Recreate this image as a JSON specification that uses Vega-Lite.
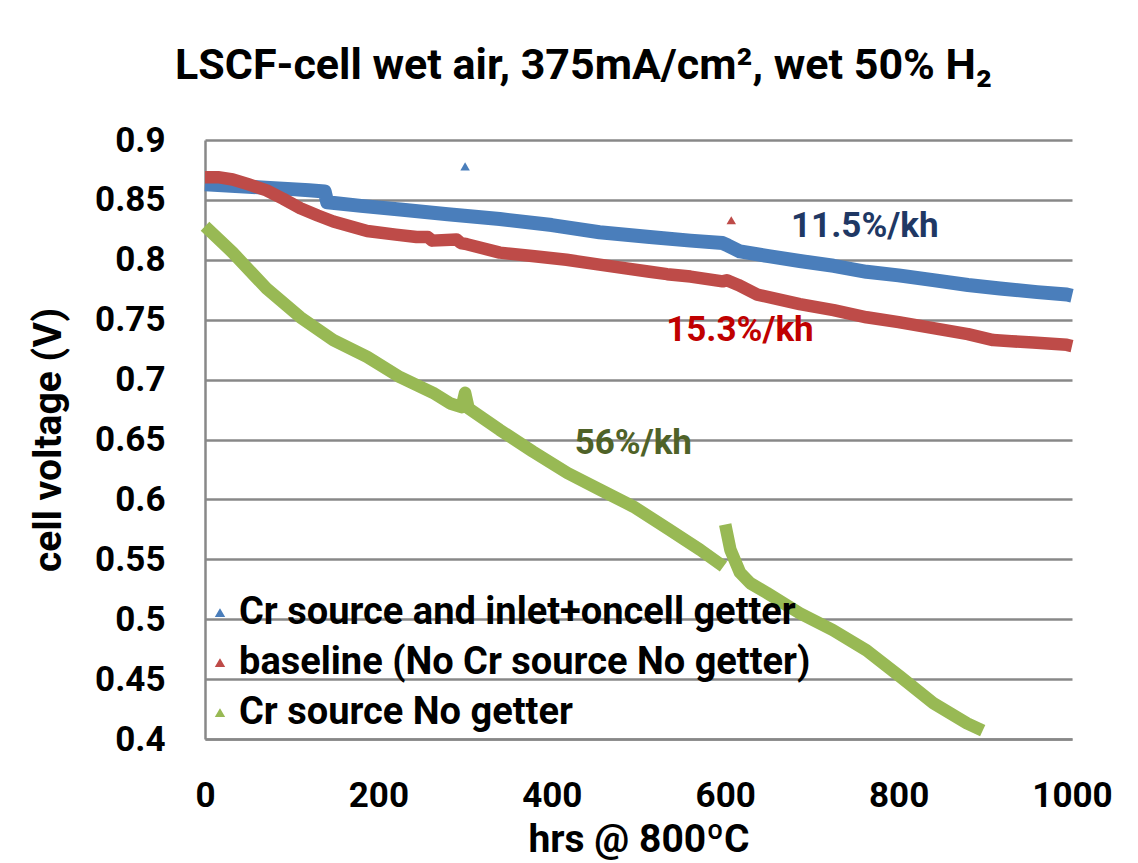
{
  "$schema": "https://vega.github.io/schema/vega-lite/v6.json",
  "width": 867,
  "height": 599,
  "autosize": {"type": "none"},
  "padding": {"left": 205, "top": 140, "right": 66, "bottom": 124},
  "background": "white",
  "title": {
    "text": "LSCF-cell wet air, 375mA/cm², wet 50% H₂",
    "font": "Roboto",
    "fontSize": 43,
    "fontWeight": "bold",
    "color": "black",
    "anchor": "middle",
    "dx": -55,
    "offset": 35
  },
  "datasets": {
    "curves": [
      {"series": "Cr source and inlet+oncell getter", "seg": 1, "hr": 0, "v": 0.863},
      {"series": "Cr source and inlet+oncell getter", "seg": 1, "hr": 25, "v": 0.862},
      {"series": "Cr source and inlet+oncell getter", "seg": 1, "hr": 50, "v": 0.861},
      {"series": "Cr source and inlet+oncell getter", "seg": 1, "hr": 75, "v": 0.860},
      {"series": "Cr source and inlet+oncell getter", "seg": 1, "hr": 100, "v": 0.859},
      {"series": "Cr source and inlet+oncell getter", "seg": 1, "hr": 120, "v": 0.858},
      {"series": "Cr source and inlet+oncell getter", "seg": 1, "hr": 138, "v": 0.857},
      {"series": "Cr source and inlet+oncell getter", "seg": 1, "hr": 141, "v": 0.848},
      {"series": "Cr source and inlet+oncell getter", "seg": 1, "hr": 180, "v": 0.845},
      {"series": "Cr source and inlet+oncell getter", "seg": 1, "hr": 225, "v": 0.842},
      {"series": "Cr source and inlet+oncell getter", "seg": 1, "hr": 280, "v": 0.838},
      {"series": "Cr source and inlet+oncell getter", "seg": 1, "hr": 340, "v": 0.834},
      {"series": "Cr source and inlet+oncell getter", "seg": 1, "hr": 400, "v": 0.829},
      {"series": "Cr source and inlet+oncell getter", "seg": 1, "hr": 455, "v": 0.823},
      {"series": "Cr source and inlet+oncell getter", "seg": 1, "hr": 513, "v": 0.819},
      {"series": "Cr source and inlet+oncell getter", "seg": 1, "hr": 560, "v": 0.816},
      {"series": "Cr source and inlet+oncell getter", "seg": 1, "hr": 597, "v": 0.814},
      {"series": "Cr source and inlet+oncell getter", "seg": 1, "hr": 603, "v": 0.812},
      {"series": "Cr source and inlet+oncell getter", "seg": 1, "hr": 617, "v": 0.807},
      {"series": "Cr source and inlet+oncell getter", "seg": 1, "hr": 650, "v": 0.803},
      {"series": "Cr source and inlet+oncell getter", "seg": 1, "hr": 686, "v": 0.799},
      {"series": "Cr source and inlet+oncell getter", "seg": 1, "hr": 725, "v": 0.795},
      {"series": "Cr source and inlet+oncell getter", "seg": 1, "hr": 763, "v": 0.790},
      {"series": "Cr source and inlet+oncell getter", "seg": 1, "hr": 800, "v": 0.787},
      {"series": "Cr source and inlet+oncell getter", "seg": 1, "hr": 840, "v": 0.783},
      {"series": "Cr source and inlet+oncell getter", "seg": 1, "hr": 880, "v": 0.779},
      {"series": "Cr source and inlet+oncell getter", "seg": 1, "hr": 917, "v": 0.776},
      {"series": "Cr source and inlet+oncell getter", "seg": 1, "hr": 960, "v": 0.773},
      {"series": "Cr source and inlet+oncell getter", "seg": 1, "hr": 994, "v": 0.771},
      {"series": "Cr source and inlet+oncell getter", "seg": 1, "hr": 1000, "v": 0.770},

      {"series": "baseline (No Cr source No getter)", "seg": 1, "hr": 0, "v": 0.869},
      {"series": "baseline (No Cr source No getter)", "seg": 1, "hr": 15, "v": 0.869},
      {"series": "baseline (No Cr source No getter)", "seg": 1, "hr": 32, "v": 0.867},
      {"series": "baseline (No Cr source No getter)", "seg": 1, "hr": 50, "v": 0.863},
      {"series": "baseline (No Cr source No getter)", "seg": 1, "hr": 71, "v": 0.858},
      {"series": "baseline (No Cr source No getter)", "seg": 1, "hr": 90, "v": 0.851},
      {"series": "baseline (No Cr source No getter)", "seg": 1, "hr": 110, "v": 0.843},
      {"series": "baseline (No Cr source No getter)", "seg": 1, "hr": 130, "v": 0.837},
      {"series": "baseline (No Cr source No getter)", "seg": 1, "hr": 148, "v": 0.832},
      {"series": "baseline (No Cr source No getter)", "seg": 1, "hr": 187, "v": 0.824},
      {"series": "baseline (No Cr source No getter)", "seg": 1, "hr": 220, "v": 0.821},
      {"series": "baseline (No Cr source No getter)", "seg": 1, "hr": 244, "v": 0.819},
      {"series": "baseline (No Cr source No getter)", "seg": 1, "hr": 257, "v": 0.819},
      {"series": "baseline (No Cr source No getter)", "seg": 1, "hr": 262, "v": 0.816},
      {"series": "baseline (No Cr source No getter)", "seg": 1, "hr": 290, "v": 0.817},
      {"series": "baseline (No Cr source No getter)", "seg": 1, "hr": 295, "v": 0.814},
      {"series": "baseline (No Cr source No getter)", "seg": 1, "hr": 302, "v": 0.813},
      {"series": "baseline (No Cr source No getter)", "seg": 1, "hr": 340, "v": 0.806},
      {"series": "baseline (No Cr source No getter)", "seg": 1, "hr": 380, "v": 0.803},
      {"series": "baseline (No Cr source No getter)", "seg": 1, "hr": 417, "v": 0.800},
      {"series": "baseline (No Cr source No getter)", "seg": 1, "hr": 455, "v": 0.796},
      {"series": "baseline (No Cr source No getter)", "seg": 1, "hr": 513, "v": 0.790},
      {"series": "baseline (No Cr source No getter)", "seg": 1, "hr": 533, "v": 0.788},
      {"series": "baseline (No Cr source No getter)", "seg": 1, "hr": 560, "v": 0.786},
      {"series": "baseline (No Cr source No getter)", "seg": 1, "hr": 597, "v": 0.782},
      {"series": "baseline (No Cr source No getter)", "seg": 1, "hr": 602, "v": 0.783},
      {"series": "baseline (No Cr source No getter)", "seg": 1, "hr": 615, "v": 0.779},
      {"series": "baseline (No Cr source No getter)", "seg": 1, "hr": 637, "v": 0.771},
      {"series": "baseline (No Cr source No getter)", "seg": 1, "hr": 686, "v": 0.763},
      {"series": "baseline (No Cr source No getter)", "seg": 1, "hr": 725, "v": 0.758},
      {"series": "baseline (No Cr source No getter)", "seg": 1, "hr": 763, "v": 0.752},
      {"series": "baseline (No Cr source No getter)", "seg": 1, "hr": 800, "v": 0.748},
      {"series": "baseline (No Cr source No getter)", "seg": 1, "hr": 840, "v": 0.743},
      {"series": "baseline (No Cr source No getter)", "seg": 1, "hr": 880, "v": 0.738},
      {"series": "baseline (No Cr source No getter)", "seg": 1, "hr": 909, "v": 0.733},
      {"series": "baseline (No Cr source No getter)", "seg": 1, "hr": 930, "v": 0.732},
      {"series": "baseline (No Cr source No getter)", "seg": 1, "hr": 955, "v": 0.731},
      {"series": "baseline (No Cr source No getter)", "seg": 1, "hr": 994, "v": 0.729},
      {"series": "baseline (No Cr source No getter)", "seg": 1, "hr": 1000, "v": 0.728},

      {"series": "Cr source No getter", "seg": 1, "hr": 0, "v": 0.828},
      {"series": "Cr source No getter", "seg": 1, "hr": 32, "v": 0.806},
      {"series": "Cr source No getter", "seg": 1, "hr": 71, "v": 0.776},
      {"series": "Cr source No getter", "seg": 1, "hr": 110, "v": 0.752},
      {"series": "Cr source No getter", "seg": 1, "hr": 148, "v": 0.733},
      {"series": "Cr source No getter", "seg": 1, "hr": 187, "v": 0.719},
      {"series": "Cr source No getter", "seg": 1, "hr": 225, "v": 0.702},
      {"series": "Cr source No getter", "seg": 1, "hr": 263, "v": 0.689},
      {"series": "Cr source No getter", "seg": 1, "hr": 283, "v": 0.680},
      {"series": "Cr source No getter", "seg": 1, "hr": 296, "v": 0.677},
      {"series": "Cr source No getter", "seg": 1, "hr": 300, "v": 0.689},
      {"series": "Cr source No getter", "seg": 1, "hr": 304, "v": 0.676},
      {"series": "Cr source No getter", "seg": 1, "hr": 340, "v": 0.658},
      {"series": "Cr source No getter", "seg": 1, "hr": 378, "v": 0.640},
      {"series": "Cr source No getter", "seg": 1, "hr": 418, "v": 0.622},
      {"series": "Cr source No getter", "seg": 1, "hr": 456, "v": 0.608},
      {"series": "Cr source No getter", "seg": 1, "hr": 494, "v": 0.594},
      {"series": "Cr source No getter", "seg": 1, "hr": 533, "v": 0.576},
      {"series": "Cr source No getter", "seg": 1, "hr": 571, "v": 0.558},
      {"series": "Cr source No getter", "seg": 1, "hr": 598, "v": 0.544},
      {"series": "Cr source No getter", "seg": 2, "hr": 600, "v": 0.579},
      {"series": "Cr source No getter", "seg": 2, "hr": 606, "v": 0.558},
      {"series": "Cr source No getter", "seg": 2, "hr": 617, "v": 0.539},
      {"series": "Cr source No getter", "seg": 2, "hr": 629, "v": 0.530},
      {"series": "Cr source No getter", "seg": 2, "hr": 648, "v": 0.522},
      {"series": "Cr source No getter", "seg": 2, "hr": 686, "v": 0.505},
      {"series": "Cr source No getter", "seg": 2, "hr": 724, "v": 0.491},
      {"series": "Cr source No getter", "seg": 2, "hr": 763, "v": 0.474},
      {"series": "Cr source No getter", "seg": 2, "hr": 802, "v": 0.452},
      {"series": "Cr source No getter", "seg": 2, "hr": 840, "v": 0.430},
      {"series": "Cr source No getter", "seg": 2, "hr": 879, "v": 0.413},
      {"series": "Cr source No getter", "seg": 2, "hr": 897, "v": 0.407}
    ],
    "outliers": [
      {"series": "Cr source and inlet+oncell getter", "hr": 300, "v": 0.878},
      {"series": "baseline (No Cr source No getter)", "hr": 607, "v": 0.833}
    ],
    "rates": [
      {"label": "11.5%/kh", "hr": 761, "v": 0.828},
      {"label": "15.3%/kh", "hr": 617, "v": 0.741},
      {"label": "56%/kh", "hr": 494, "v": 0.647}
    ]
  },
  "layer": [
    {
      "data": {"name": "outliers"},
      "mark": {"type": "point", "shape": "triangle-up", "filled": true, "size": 90, "opacity": 1},
      "encoding": {
        "x": {
          "field": "hr", "type": "quantitative",
          "scale": {"domain": [0, 1000], "nice": false},
          "axis": {
            "title": "hrs @ 800ºC",
            "values": [0, 200, 400, 600, 800, 1000],
            "format": "d",
            "labelFlush": false,
            "grid": false, "ticks": false,
            "domainColor": "#888888", "domainWidth": 2.5,
            "labelFont": "Roboto", "labelFontSize": 35, "labelFontWeight": "bold", "labelColor": "black",
            "labelPadding": 39,
            "titleFont": "Roboto", "titleFontSize": 39, "titleFontWeight": "bold", "titleColor": "black",
            "titlePadding": 7
          }
        },
        "y": {
          "field": "v", "type": "quantitative",
          "scale": {"domain": [0.4, 0.9], "nice": false, "zero": false},
          "axis": {
            "title": "cell voltage (V)",
            "values": [0.4, 0.45, 0.5, 0.55, 0.6, 0.65, 0.7, 0.75, 0.8, 0.85, 0.9],
            "format": ".2~f",
            "grid": true, "gridColor": "#888888", "gridWidth": 2.5,
            "ticks": false,
            "domainColor": "#888888", "domainWidth": 2.5,
            "labelFont": "Roboto", "labelFontSize": 35, "labelFontWeight": "bold", "labelColor": "black",
            "labelPadding": 40,
            "titleFont": "Roboto", "titleFontSize": 39, "titleFontWeight": "bold", "titleColor": "black",
            "titlePadding": 26
          }
        },
        "color": {
          "field": "series", "type": "nominal",
          "scale": {
            "domain": ["Cr source and inlet+oncell getter", "baseline (No Cr source No getter)", "Cr source No getter"],
            "range": ["#4A7EBB", "#BE4B48", "#98B954"]
          },
          "legend": {
            "orient": "none",
            "legendX": -4,
            "legendY": 454,
            "padding": 0,
            "title": null,
            "symbolType": "triangle-up",
            "symbolSize": 60,
            "symbolOpacity": 1,
            "labelFont": "Roboto",
            "labelFontSize": 38,
            "labelFontWeight": "bold",
            "labelColor": "black",
            "labelLimit": 800,
            "labelOffset": 0,
            "rowPadding": 12
          }
        }
      }
    },
    {
      "data": {"name": "curves"},
      "transform": [{"filter": "datum.series == 'Cr source and inlet+oncell getter'"}],
      "mark": {"type": "line", "strokeWidth": 14, "strokeJoin": "round"},
      "encoding": {
        "x": {"field": "hr", "type": "quantitative"},
        "y": {"field": "v", "type": "quantitative"},
        "color": {"field": "series", "type": "nominal", "legend": null},
        "detail": {"field": "seg", "type": "nominal"}
      }
    },
    {
      "data": {"name": "curves"},
      "transform": [{"filter": "datum.series != 'Cr source and inlet+oncell getter'"}],
      "mark": {"type": "line", "strokeWidth": 12.5, "strokeJoin": "round"},
      "encoding": {
        "x": {"field": "hr", "type": "quantitative"},
        "y": {"field": "v", "type": "quantitative"},
        "color": {"field": "series", "type": "nominal", "legend": null},
        "detail": {"field": "seg", "type": "nominal"}
      }
    },
    {
      "data": {"name": "rates"},
      "transform": [{"filter": "datum.label == '11.5%/kh'"}],
      "mark": {"type": "text", "font": "Roboto", "fontSize": 35, "fontWeight": "bold", "color": "#1F3864"},
      "encoding": {
        "x": {"field": "hr", "type": "quantitative"},
        "y": {"field": "v", "type": "quantitative"},
        "text": {"field": "label"}
      }
    },
    {
      "data": {"name": "rates"},
      "transform": [{"filter": "datum.label == '15.3%/kh'"}],
      "mark": {"type": "text", "font": "Roboto", "fontSize": 35, "fontWeight": "bold", "color": "#C00000"},
      "encoding": {
        "x": {"field": "hr", "type": "quantitative"},
        "y": {"field": "v", "type": "quantitative"},
        "text": {"field": "label"}
      }
    },
    {
      "data": {"name": "rates"},
      "transform": [{"filter": "datum.label == '56%/kh'"}],
      "mark": {"type": "text", "font": "Roboto", "fontSize": 35, "fontWeight": "bold", "color": "#4F6228"},
      "encoding": {
        "x": {"field": "hr", "type": "quantitative"},
        "y": {"field": "v", "type": "quantitative"},
        "text": {"field": "label"}
      }
    }
  ],
  "config": {"view": {"stroke": null}}
}
